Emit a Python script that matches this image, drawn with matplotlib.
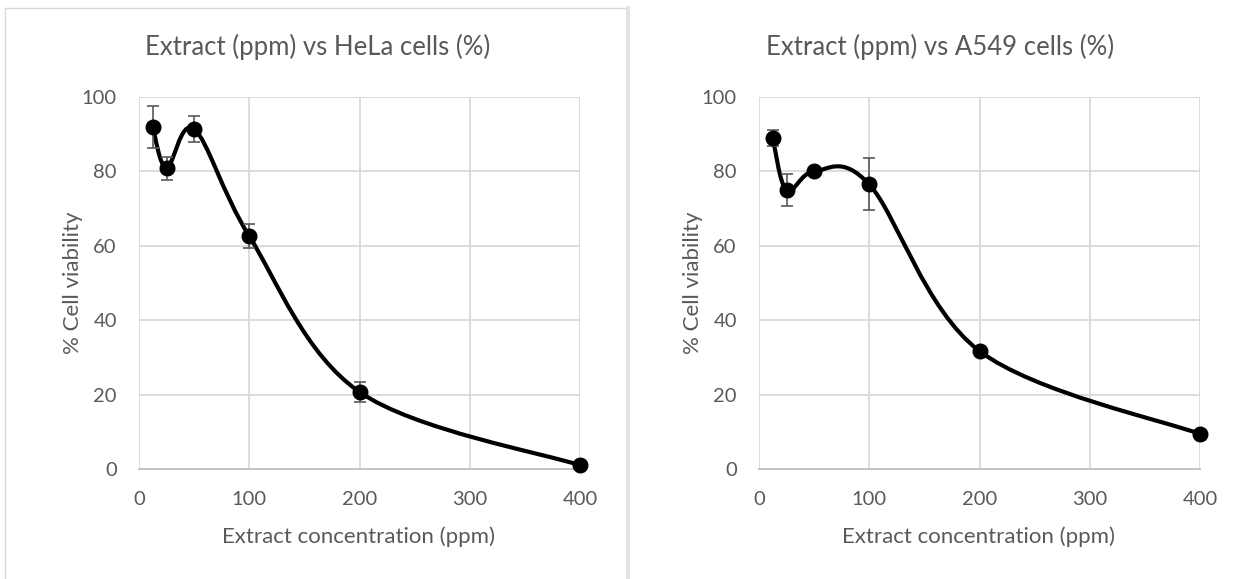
import numpy as np
import matplotlib
matplotlib.use("Agg")
import matplotlib.pyplot as plt
from matplotlib.path import Path
from matplotlib.patches import PathPatch
from matplotlib.lines import Line2D

"""""""""""""""""""""""""""""""""""""""""""""""""""""""""""""""""""""""""""
Data Section
"""""""""""""""""""""""""""""""""""""""""""""""""""""""""""""""""""""""""""
conc = [12.5, 25, 50, 100, 200, 400]

hela_titles = "Extract (ppm) vs HeLa cells (%)"
hela_mean = [91.9, 80.9, 91.4, 62.6, 20.7, 1.0]
hela_err = [5.6, 3.1, 3.4, 3.3, 2.6, 0.0]

a549_titles = "Extract (ppm) vs A549 cells (%)"
a549_mean = [88.9, 74.9, 80.0, 76.5, 31.7, 9.4]
a549_err = [2.2, 4.3, 0.5, 7.0, 0.5, 0.0]

x_ticks = [0, 100, 200, 300, 400]
y_ticks = [0, 20, 40, 60, 80, 100]
xlabel = "Extract concentration (ppm)"
ylabel = "% Cell viability"

"""""""""""""""""""""""""""""""""""""""""""""""""""""""""""""""""""""""""""
Style Section
"""""""""""""""""""""""""""""""""""""""""""""""""""""""""""""""""""""""""""
W, H = 1240, 579
plt.rcParams['font.family'] = ['Lato', 'DejaVu Sans']
txt = '#595959'
grid = '#d9d9d9'


def smooth_path(ax, x, y):
    # excel style smoothed line: cubic bezier, control points from neighbours
    # worked out in screen space so the curve bends like excel's
    ax.figure.canvas.draw()
    pts = ax.transData.transform(np.column_stack([x, y]))
    n = len(pts)
    verts = [pts[0]]
    codes = [Path.MOVETO]
    for i in range(n - 1):
        p0 = pts[max(i - 1, 0)]
        p1 = pts[i]
        p2 = pts[i + 1]
        p3 = pts[min(i + 2, n - 1)]
        c1 = p1 + (p2 - p0) / 6.0
        c2 = p2 - (p3 - p1) / 6.0
        verts += [c1, c2, p2]
        codes += [Path.CURVE4] * 3
    verts = ax.transData.inverted().transform(np.array(verts))
    return Path(verts, codes)


def panel(left_px, title, mean, err, title_cx):
    ax = fig.add_axes([left_px / W, 1 - 469 / H, 441 / W, 372 / H])
    ax.set_xlim(0, 400)
    ax.set_ylim(0, 100)
    ax.set_xticks(x_ticks)
    ax.set_yticks(y_ticks)
    ax.tick_params(length=0, labelsize=14.5, colors=txt, pad=16)
    ax.grid(True, color=grid, lw=1.3)
    ax.set_axisbelow(True)
    for s in ['top', 'right', 'left']:
        ax.spines[s].set_visible(False)
    ax.spines['bottom'].set_color('#bfbfbf')
    ax.spines['bottom'].set_linewidth(1.3)

    ax.add_patch(PathPatch(smooth_path(ax, conc, mean), facecolor='none',
                           edgecolor='black', lw=3.0, zorder=3,
                           capstyle='round', joinstyle='round'))
    ax.errorbar(conc, mean, yerr=err, fmt='none', ecolor='#595959',
                elinewidth=1.2, capsize=4.5, capthick=1.2, zorder=4)
    ax.plot(conc, mean, 'o', color='black', ms=10.5, zorder=5, clip_on=False)

    fig.text(title_cx / W, 1 - 47 / H, title, ha='center', va='center',
             fontsize=18.5, color=txt)
    fig.text((left_px + 220) / W, 1 - 537 / H, xlabel, ha='center',
             va='center', fontsize=16, color=txt)
    fig.text((left_px - 66) / W, 1 - 283 / H, ylabel, ha='center',
             va='center', rotation=90, fontsize=16, color=txt)
    return ax


"""""""""""""""""""""""""""""""""""""""""""""""""""""""""""""""""""""""""""
Plot Section
"""""""""""""""""""""""""""""""""""""""""""""""""""""""""""""""""""""""""""
fig = plt.figure(figsize=(W / 100, H / 100), dpi=100)

# chart frames
fig.add_artist(Line2D([5 / W, 627 / W], [1 - 8 / H, 1 - 8 / H],
                      color='#d9d9d9', lw=1.0))
fig.add_artist(Line2D([5 / W, 5 / W], [0, 1 - 8 / H], color='#d9d9d9', lw=1.0))
fig.add_artist(Line2D([628 / W, 628 / W], [0, 1 - 8 / H], color='#e3e3e3', lw=3.0))

panel(139, hela_titles, hela_mean, hela_err, 318)
panel(759, a549_titles, a549_mean, a549_err, 940)

fig.savefig("out.png", dpi=100)
